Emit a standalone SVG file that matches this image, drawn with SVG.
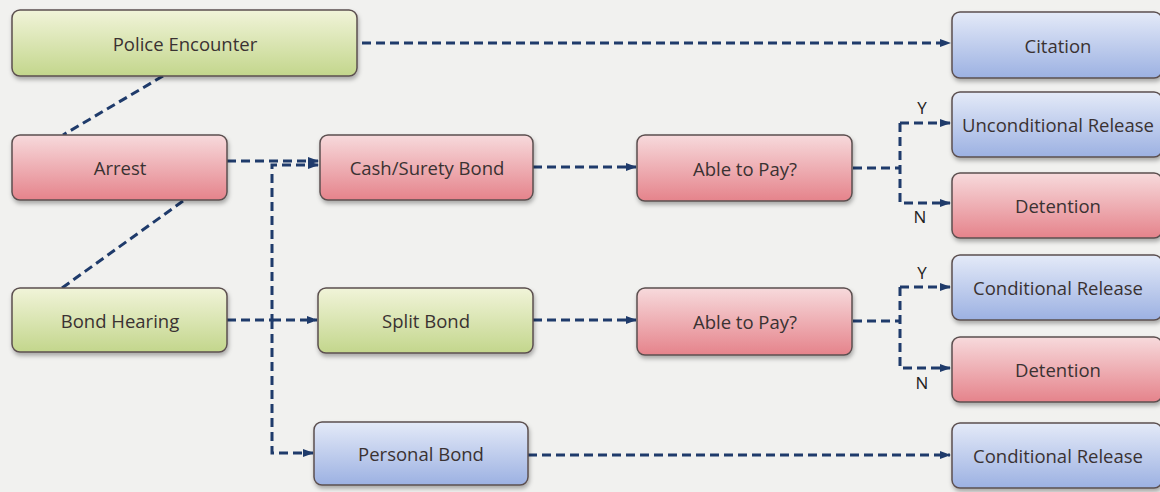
<svg xmlns="http://www.w3.org/2000/svg" width="1160" height="492" viewBox="0 0 1160 492">
<defs>
<linearGradient id="gGreen" x1="0" y1="0" x2="0" y2="1"><stop offset="0" stop-color="#f1f4d9"/><stop offset="1" stop-color="#c3d68c"/></linearGradient>
<linearGradient id="gPink" x1="0" y1="0" x2="0" y2="1"><stop offset="0" stop-color="#f7dadc"/><stop offset="1" stop-color="#e5838b"/></linearGradient>
<linearGradient id="gBlue" x1="0" y1="0" x2="0" y2="1"><stop offset="0" stop-color="#e4eaf8"/><stop offset="1" stop-color="#9cb1e2"/></linearGradient>
<filter id="sh" x="-10%" y="-20%" width="120%" height="150%"><feDropShadow dx="1" dy="3" stdDeviation="2" flood-color="#000" flood-opacity="0.3"/></filter>
<marker id="arr" markerWidth="11" markerHeight="8" refX="10" refY="4" orient="auto" markerUnits="userSpaceOnUse"><path d="M0,0 L11,4 L0,8 Z" fill="#1f3b6b"/></marker>
</defs>
<style>
.box{stroke:#5b4f4f;stroke-width:1.5;filter:url(#sh)}
.g{fill:url(#gGreen)}.p{fill:url(#gPink)}.b{fill:url(#gBlue)}
text{font-family:"Open Sans","Noto Sans",sans-serif;font-size:18.5px;fill:#3a3232;text-anchor:middle;dominant-baseline:central}
.lbl{font-size:17px;fill:#222}
.c{fill:none;stroke:#1f3b6b;stroke-width:3;stroke-dasharray:9 5}
</style>
<rect width="1160" height="492" fill="#f1f1ef"/>
<g id="connectors">
<path class="c" d="M362,43 H950" marker-end="url(#arr)"/>
<path class="c" d="M163,76 L63,135"/>
<path class="c" d="M183,201 L62,288"/>
<path class="c" d="M227,161 H318" marker-end="url(#arr)"/>
<path class="c" d="M227,320 H272 V165 H318" marker-end="url(#arr)"/>
<path class="c" d="M272,320 H317" marker-end="url(#arr)"/>
<path class="c" d="M272,320 V453 H313" marker-end="url(#arr)"/>
<path class="c" d="M533,167 H636" marker-end="url(#arr)"/>
<path class="c" d="M533,320 H636" marker-end="url(#arr)"/>
<path class="c" d="M528,455 H950" marker-end="url(#arr)"/>
<path class="c" d="M853,168 H900"/>
<path class="c" d="M900,123 V203 H950" marker-end="url(#arr)"/>
<path class="c" d="M900,123 H950" marker-end="url(#arr)"/>
<path class="c" d="M853,321 H900"/>
<path class="c" d="M900,287 V368 H950" marker-end="url(#arr)"/>
<path class="c" d="M900,287 H950" marker-end="url(#arr)"/>
<text class="lbl" x="922" y="107">Y</text>
<text class="lbl" x="920" y="216">N</text>
<text class="lbl" x="922" y="272">Y</text>
<text class="lbl" x="922" y="382">N</text>
</g>
<g id="police"><rect class="box g" x="12" y="10" width="345" height="66" rx="8"/><text x="185" y="43">Police Encounter</text></g>
<g id="arrest"><rect class="box p" x="12" y="135" width="215" height="65" rx="8"/><text x="120" y="167">Arrest</text></g>
<g id="bondhearing"><rect class="box g" x="12" y="288" width="215" height="64" rx="8"/><text x="120" y="320">Bond Hearing</text></g>
<g id="cash"><rect class="box p" x="320" y="135" width="213" height="65" rx="8"/><text x="427" y="167">Cash/Surety Bond</text></g>
<g id="split"><rect class="box g" x="318" y="288" width="215" height="65" rx="8"/><text x="426" y="320">Split Bond</text></g>
<g id="personal"><rect class="box b" x="314" y="422" width="214" height="63" rx="8"/><text x="421" y="453">Personal Bond</text></g>
<g id="able1"><rect class="box p" x="637" y="135" width="215" height="66" rx="8"/><text x="745" y="168">Able to Pay?</text></g>
<g id="able2"><rect class="box p" x="637" y="288" width="215" height="67" rx="8"/><text x="745" y="321">Able to Pay?</text></g>
<g id="citation"><rect class="box b" x="952" y="12" width="210" height="66" rx="8"/><text x="1058" y="45">Citation</text></g>
<g id="uncond"><rect class="box b" x="952" y="92" width="210" height="65" rx="8"/><text x="1058" y="124">Unconditional Release</text></g>
<g id="det1"><rect class="box p" x="952" y="173" width="210" height="65" rx="8"/><text x="1058" y="205">Detention</text></g>
<g id="cond1"><rect class="box b" x="952" y="255" width="210" height="65" rx="8"/><text x="1058" y="287">Conditional Release</text></g>
<g id="det2"><rect class="box p" x="952" y="337" width="210" height="65" rx="8"/><text x="1058" y="369">Detention</text></g>
<g id="cond2"><rect class="box b" x="952" y="423" width="210" height="65" rx="8"/><text x="1058" y="455">Conditional Release</text></g>
</svg>
